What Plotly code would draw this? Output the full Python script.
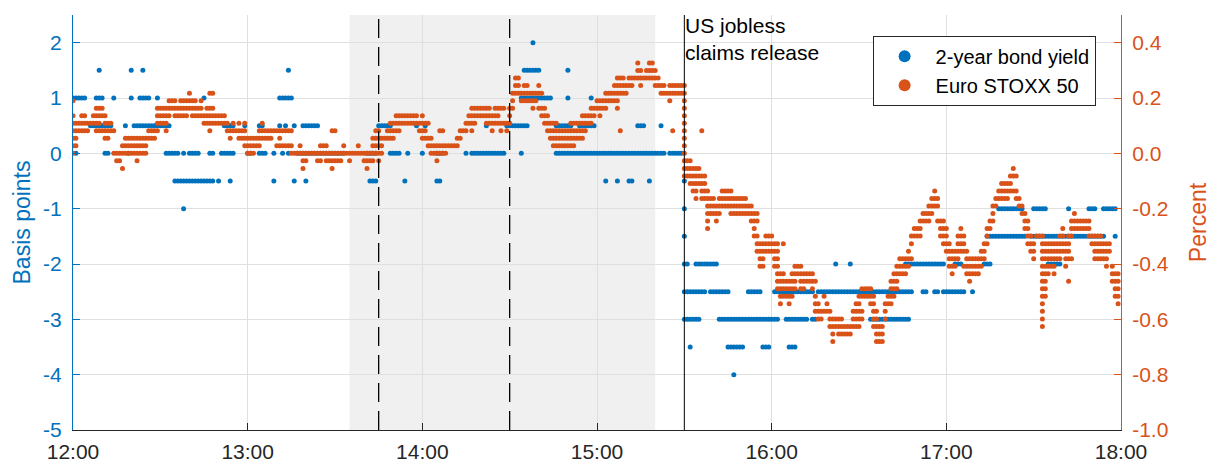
import pandas as pd
import plotly.graph_objects as go

# readings per minute from 12:00 (index = minutes after 12:00)
# 2-year bond yield change, basis points
bond_bp = [
    [1], [1, 0], [1], [1], [1], [], [0.5], [0.5], [1, 0.5], [1.5, 1, 0.5],
    [1, 0.5], [0.5, 0], [0.5, 0], [0.5], [1], [], [], [], [0.5], [0],
    [1.5, 1], [0.5], [0.5], [1, 0.5], [1.5, 1, 0.5], [1, 0.5], [1, 0.5], [0.5], [0.5], [1, 0.5],
    [0.5], [0.5], [0.5, 0], [0.5, 0], [0], [0, -0.5], [0, -0.5], [-0.5], [0, -0.5, -1], [-0.5],
    [0, -0.5], [0, -0.5], [0, -0.5], [0, -0.5], [-0.5], [1, -0.5], [-0.5], [0, -0.5], [0, -0.5], [],
    [-0.5], [0], [0.5, 0], [0.5, 0], [0.5, 0, -0.5], [0.5, 0], [], [], [], [0.5],
    [0], [0], [], [], [0.5, 0], [0.5, 0], [0], [], [], [0, -0.5],
    [], [1, 0.5], [1, 0], [1, 0.5], [1.5, 1, 0], [1], [0.5, -0.5], [0], [0], [0.5, 0],
    [0.5, 0, -0.5], [0.5, 0], [0.5, 0], [0.5, 0], [0.5, 0], [0], [0], [0], [0], [0],
    [0], [0], [0], [0], [], [], [], [], [], [],
    [], [0], [0, -0.5], [0, -0.5], [0, -0.5], [0.5], [0.5], [0.5], [0.5], [0.5, 0],
    [0], [0], [0], [], [-0.5], [0], [], [], [0.5], [],
    [0], [0.5], [], [], [], [0, -0.5], [0, -0.5], [0], [], [],
    [], [], [], [], [], [0], [], [0], [0], [0],
    [0], [0], [0.5, 0], [0], [0], [0], [0], [0], [0], [0.5],
    [0.5], [0.5], [0.5], [0.5], [1, 0.5, 0], [1.5, 1, 0.5], [1.5, 1, 0.5], [1.5, 1], [2, 1.5, 1], [1.5, 1],
    [1.5, 1], [1], [1], [1], [1], [], [0.5, 0], [0.5, 0], [0.5, 0], [0.5, 0],
    [1.5, 1, 0.5, 0], [0.5, 0], [0], [0], [0.5, 0], [0.5, 0], [0.5, 0], [0.5, 0], [1, 0.5, 0], [0.5, 0],
    [0], [0], [0], [0, -0.5], [0], [0], [0], [0, -0.5], [0], [0],
    [0], [0, -0.5], [0, -0.5], [0], [0.5, 0], [0.5, 0], [0.5, 0], [0], [0, -0.5], [0],
    [0], [0], [0.5, 0], [0], [], [0], [0], [0], [0], [0],
    [-0.5, -1, -1.5, -2, -2.5, -3], [-2, -2.5, -3], [-2.5, -3, -3.5], [-2.5, -3], [-2, -2.5, -3],
    [-2, -2.5, -3], [-2, -2.5], [-2, -2.5], [-2], [-2, -2.5],
    [-2, -2.5], [-2, -2.5], [-2.5, -3], [-2.5, -3], [-2.5, -3], [-2.5, -3, -3.5], [-3, -3.5], [-3, -3.5, -4], [-3, -3.5], [-3, -3.5],
    [-3, -3.5], [-3], [-2.5, -3], [-2.5, -3], [-2.5, -3], [-2.5, -3], [-2.5, -3], [-3, -3.5], [-3, -3.5], [-3, -3.5],
    [-3], [-2.5, -3], [-2.5, -3], [-2.5], [-2.5], [-2.5, -3], [-2.5, -3, -3.5], [-2.5, -3, -3.5], [-2.5, -3, -3.5], [-2.5, -3],
    [-2.5, -3], [-2.5, -3], [-2.5, -3], [-2.5], [-2.5, -3], [-3], [-2.5], [-2.5], [-2.5], [-2.5],
    [-2.5], [-2.5], [-2, -2.5], [-2.5], [-2.5], [-2.5], [-2.5], [-2, -2.5], [-2.5], [-2.5],
    [-2.5], [-2.5], [-2.5], [-2.5], [-2.5, -3], [-2.5, -3], [-2.5, -3], [-2.5, -3], [-2.5, -3], [-2.5, -3],
    [-2.5, -3], [-2.5, -3], [-2.5, -3], [-2.5, -3], [-2.5, -3], [-2.5, -3], [-2, -2.5, -3], [-2, -2.5, -3], [-2, -2.5], [-2],
    [-2], [-2], [-2, -2.5], [-2, -2.5], [-2], [-2], [-2, -2.5], [-2, -2.5], [-2], [-2, -2.5],
    [-2.5], [-2.5], [-2.5], [-2, -2.5], [-2, -2.5], [-2, -2.5], [-2.5], [], [], [-2.5],
    [], [], [], [-2], [-1.5, -2], [-1.5, -2], [-1.5], [-1.5], [-1, -1.5], [-1, -1.5],
    [-1, -1.5], [-1, -1.5], [-1, -1.5], [-1, -1.5], [-1, -1.5], [-1, -1.5], [-1, -1.5], [-1.5], [], [-1.5],
    [-1, -1.5], [-1, -1.5], [-1, -1.5], [-1, -1.5], [-1, -1.5], [-1.5, -2], [-1.5, -2], [-1.5, -2], [-1.5, -2], [-1.5, -2],
    [-1.5], [-1.5], [-1, -1.5], [-1.5], [-1.5], [-1.5], [-1.5], [-1.5], [-1.5], [-1, -1.5],
    [-1, -1.5], [-1, -1.5], [-1.5], [-1.5], [-1, -1.5], [-1], [-1], [-1], [-1, -1.5], [],
]

# Euro STOXX 50 change, in index ticks (1 tick ~ 0.0272 %)
stoxx_ticks = [
    [7, 5, 4, 3, 2, 1, 0], [4, 3, 2, 1], [4, 3], [5, 4, 3], [5, 4, 3], [4, 3], [4], [5, 4], [6, 5, 4, 3], [6, 5, 4, 3],
    [6, 5, 3], [5, 4, 3, 2], [4, 3, 2], [4, 3], [3, 0], [0, -1], [0, -1], [1, 0, -2], [2, 1, 0], [2, 1, 0],
    [2, 1, 0], [2, 1, 0], [2, 1, 0, -1], [2, 1, 0], [2, 1, 0], [2, 1, 0], [3, 2], [3, 2], [3, 2], [6, 5, 4, 3],
    [6, 5, 4], [6, 5, 4], [6, 5, 4, 3], [7, 6, 5], [7, 6], [7, 6, 5], [6, 5], [7, 6, 5], [7, 6, 5], [7, 6, 5],
    [8, 7, 6], [7, 6, 5], [7, 6, 5], [6, 5], [7, 6, 5], [5, 4], [6, 5, 4], [8, 6, 5, 4, 3], [8, 6, 5, 4], [5, 4],
    [5, 4], [5, 4], [5, 4], [4, 3], [3, 2], [4, 3], [3], [4, 3, 2], [3, 2], [4, 3, 2, 1],
    [2, 1, 0], [2, 1, 0], [2, 1, 0], [2, 1], [3, 2, 1], [4, 3, 2], [3, 2], [3, 2], [3, 2], [3],
    [3, 1], [3, 2, 1], [3, 1], [3, 1], [3, 1], [3, 1, 0], [0], [0], [1, 0], [0, -1, -2],
    [0, -1], [0], [0], [0], [0, -1], [1, 0, -1], [1, 0], [1, 0, -1], [0, -1], [3, 0, -1, -2],
    [3, 0, -1], [0, -1], [0, -1], [1, 0], [0], [0, -1], [0], [0], [1, 0], [0],
    [0, -1], [0, -1, -2], [0, -1], [2, 1, 0, -1], [3, 2, 1, 0], [3, 2, 1, 0, -1], [2, 1, 0], [2], [3, 2], [4, 3, 2],
    [4, 3, 2], [5, 4, 3], [5, 4, 3], [5, 4], [5, 4], [5, 4], [5, 4], [5, 4], [5, 4], [4, 3],
    [5, 4, 3, 2], [4, 3, 2], [4, 2, 1], [2, 1, 0], [1, 0], [1, 0, -1], [3, 1, 0], [3, 1, 0], [1, 0], [1],
    [1], [1], [2, 1], [3, 2], [3], [4, 3], [5, 4], [6, 5, 4, 3], [6, 5, 4], [6, 5],
    [6, 5], [6, 5], [6, 5, 4], [6, 5, 4], [5, 4, 3], [6, 5, 4], [6, 5, 4], [6, 4, 3], [6, 4], [4, 3],
    [6, 5, 4], [8, 7, 6], [10, 9, 8], [10, 9, 8], [8, 7], [9, 8, 7], [9, 8, 7], [8, 7], [8, 7, 6], [8, 7],
    [9, 8, 6], [8, 6, 5], [6, 5, 4], [5, 4, 3], [4, 3, 2], [4, 3, 2, 1], [4, 3, 2, 1], [3, 2, 1], [3, 2, 1], [3, 2, 1],
    [3, 2, 1], [4, 3, 2, 1], [4, 3, 2, 1], [4, 3, 2], [4, 3, 2], [5, 4, 3, 2], [5, 4, 3], [5, 4], [6, 5, 4], [6, 5],
    [7, 6], [7, 6, 5], [7, 6], [8, 7, 6], [8, 7], [8, 7], [9, 8, 7], [10, 9, 8, 7, 6], [10, 9, 8, 3], [10, 9, 8],
    [9, 8], [10, 9], [10, 9], [10], [12, 11, 10], [11, 10, 9], [10], [11, 10], [12, 11, 10], [12, 11, 10],
    [11, 10, 9], [10, 9], [9, 8], [9, 8], [8], [9, 8, 7], [9, 8, 3], [9, 8], [9, 8], [9, 8],
    [9, 8, 7, 6, 5, 4, 3, 2, 1, 0, -1, -2, -3], [-1, -2, -3], [-1, -2, -3, -4], [-2, -3, -4, -5], [-2, -3, -4, -5, -6],
    [-2, -3, -4], [3, -3, -4, -5, -6], [-3, -4, -5, -6], [-5, -6, -7, -8, -9, -10], [-6, -7, -8],
    [-6, -7, -8], [-7, -8, -9], [-6, -7, -8], [-5, -6, -7], [-5, -6, -7], [-5, -6, -7], [-5, -6, -7, -8], [-6, -7, -8], [-6, -7, -8], [-6, -7, -8],
    [-6, -7, -8], [-6, -7, -8], [-7, -8], [-7, -8, -9], [-8, -9, -10, -11], [-8, -9, -11, -12, -13], [-12, -13, -14, -15], [-12, -13, -14, -15], [-11, -12, -13], [-11, -12, -13],
    [-11, -12, -13], [-12, -13, -14, -15], [-12, -13, -14, -15, -16, -17, -18], [-16, -17, -18, -19, -20], [-12, -16, -17, -18, -19],
    [-17, -18, -19], [-17, -18, -19, -20], [-16, -17, -18, -19], [-15, -16, -17, -18], [-15, -16],
    [-15, -16, -17, -18], [-16, -17, -18], [-16, -17], [-16, -17], [-16, -17, -18], [-17, -19, -20, -21], [-20, -21, -22], [-21, -22], [-21, -19], [-20, -21],
    [-21, -22, -23], [-22, -23, -24, -25], [-22, -23], [-22, -23, -24], [-22, -23, -24], [-23, -24], [-23, -24], [-23, -24], [-21, -22, -23], [-20, -21, -22, -23],
    [-19, -20, -21, -22, -23], [-18, -19, -21, -22], [-18, -19], [-18, -19], [-18, -19, -20], [-19, -20, -21, -22, -23], [-21, -22, -23, -24, -25], [-23, -24, -25], [-23, -24, -25], [-20, -21, -22],
    [-19, -20], [-17, -18, -19, -20], [-16, -17, -18, -19], [-15, -16, -17, -18], [-14, -15, -16], [-14, -15, -16], [-14, -15, -16], [-13, -14, -15], [-11, -12, -14], [-10, -11],
    [-10, -11], [-9, -10, -11], [-8, -9], [-8, -9], [-7, -8, -9], [-6, -7, -8], [-5, -6, -7], [-6, -7, -9], [-9, -10, -11], [-9, -10, -11, -12],
    [-10, -11, -12, -13], [-12, -13, -14, -15], [-13, -14, -15, -16], [-13, -14, -15], [-11, -12, -13, -14], [-10, -11, -12, -13], [-11, -12, -13, -15], [-13, -14, -15, -16], [-14, -15, -16, -17], [-14, -15, -16],
    [-14, -15, -16], [-14, -15, -16], [-13, -14, -15], [-12, -13, -14], [-10, -11, -12], [-9, -10], [-7, -8, -9], [-6, -7], [-5, -6], [-4, -5, -6],
    [-4, -5, -6], [-4, -5, -6], [-3, -4, -5], [-2, -3, -5], [-3, -5, -6], [-6, -7], [-7, -8], [-8, -9, -10], [-9, -10, -11, -12], [-11, -12, -13],
    [-12, -13, -14], [-11], [-11], [-11, -12, -13, -14, -15, -16, -17, -18, -19, -20, -21, -22, -23],
    [-12, -13, -14, -15, -16, -17, -18, -19], [-12, -13, -14, -15, -16], [-12, -13, -14, -15], [-12, -13, -14, -15, -16], [-12, -13, -14], [-11, -12, -13, -14],
    [-10, -11, -12, -13], [-12, -13, -14, -15], [-11, -12, -13, -14, -17], [-9, -10, -11, -14], [-8, -9, -10], [-9, -10], [-9, -10], [-9, -10], [-9, -10], [-9, -10, -11],
    [-11, -12], [-11, -12, -13, -14], [-11, -12, -13, -14], [-11, -12, -13, -14], [-12, -13, -14], [-12, -13, -14, -15], [-12, -13], [-15, -16, -17], [-16, -17, -18, -19], [-16, -17, -18, -19, -20],
]
STOXX_TICK_PCT = 0.0272

start = pd.Timestamp("2020-01-02 12:00")
shade = (pd.Timestamp("2020-01-02 13:35"), pd.Timestamp("2020-01-02 15:20"))
dashed_times = [pd.Timestamp("2020-01-02 13:45"), pd.Timestamp("2020-01-02 14:30")]
release = pd.Timestamp("2020-01-02 15:30")
end = pd.Timestamp("2020-01-02 18:00")

BLUE = "#0072BD"
ORANGE = "#D95319"
AX = "#262626"
GRID = "#DFDFDF"
FONT = "Liberation Sans, Arial, sans-serif"


def flatten(per_minute, scale=1.0):
    xs, ys = [], []
    for i, vals in enumerate(per_minute):
        for v in vals:
            xs.append(start + pd.Timedelta(minutes=i))
            ys.append(v * scale)
    return xs, ys


bx, by = flatten(bond_bp)
sx, sy = flatten(stoxx_ticks, STOXX_TICK_PCT)

fig = go.Figure()
fig.add_trace(go.Scatter(x=bx, y=by, mode="markers", yaxis="y",
                         marker=dict(color=BLUE, size=5), showlegend=False))
fig.add_trace(go.Scatter(x=sx, y=sy, mode="markers", yaxis="y2",
                         marker=dict(color=ORANGE, size=5), showlegend=False))
# legend entries with bigger dots
fig.add_trace(go.Scatter(x=[None], y=[None], mode="markers", name="2-year bond yield",
                         marker=dict(color=BLUE, size=12)))
fig.add_trace(go.Scatter(x=[None], y=[None], mode="markers", name="Euro STOXX 50",
                         marker=dict(color=ORANGE, size=12)))

fig.add_shape(type="rect", x0=shade[0], x1=shade[1], y0=0, y1=1, xref="x", yref="paper",
              fillcolor="#F0F0F0", line_width=0, layer="below")
for t in dashed_times:
    fig.add_shape(type="line", x0=t, x1=t, y0=0, y1=1, xref="x", yref="paper",
                  line=dict(color="black", width=1.3, dash="19px,9px"))
fig.add_shape(type="line", x0=release, x1=release, y0=0, y1=1, xref="x", yref="paper",
              line=dict(color="black", width=1))

fig.add_annotation(x=release, y=1, xref="x", yref="paper", xanchor="left", yanchor="top",
                   xshift=-1, yshift=3, align="left", showarrow=False,
                   text="US jobless<br>claims release", font=dict(size=21, color="black"))

left_ticks = [2, 1, 0, -1, -2, -3, -4, -5]
right_ticks = [0.4, 0.2, 0.0, -0.2, -0.4, -0.6, -0.8, -1.0]

fig.update_layout(
    width=1211, height=462,
    margin=dict(l=73, r=90, t=15, b=32),
    plot_bgcolor="white", paper_bgcolor="white",
    font=dict(family=FONT, size=20, color=AX),
    xaxis=dict(type="date", range=[start, end], dtick=3600000, tickformat="%H:%M",
               showgrid=True, gridcolor=GRID, gridwidth=1, ticks="inside", ticklen=7,
               tickcolor=AX, showline=True, linecolor=AX, linewidth=1,
               tickfont=dict(size=21, color=AX), ticklabelstandoff=3, zeroline=False,
               automargin=False),
    yaxis=dict(range=[-5, 2.5], tickvals=left_ticks, ticktext=[str(v) for v in left_ticks],
               showgrid=True, gridcolor=GRID, gridwidth=1, zeroline=False,
               ticks="inside", ticklen=7, tickcolor=BLUE, showline=True, linecolor=BLUE,
               tickfont=dict(size=21, color=BLUE), ticklabelstandoff=6, automargin=False,
               title=dict(text="Basis points", font=dict(size=23, color=BLUE), standoff=6)),
    yaxis2=dict(range=[-1.0, 0.5], overlaying="y", side="right", tickvals=right_ticks,
                ticktext=["%.1f" % v for v in right_ticks], showgrid=False, zeroline=False,
                ticks="inside", ticklen=7, tickcolor=ORANGE, showline=True, linecolor=ORANGE,
                tickfont=dict(size=21, color=ORANGE), ticklabelstandoff=6, automargin=False,
                title=dict(text="Percent", font=dict(size=23, color=ORANGE), standoff=22)),
    legend=dict(x=0.763, y=0.95, xanchor="left", yanchor="top", bgcolor="white",
                bordercolor=AX, borderwidth=1, font=dict(size=20, color="black"),
                itemwidth=52, tracegroupgap=0),
)

fig.write_html("out.html", config={"displayModeBar": False},
               post_script="document.body.style.margin='0';")
